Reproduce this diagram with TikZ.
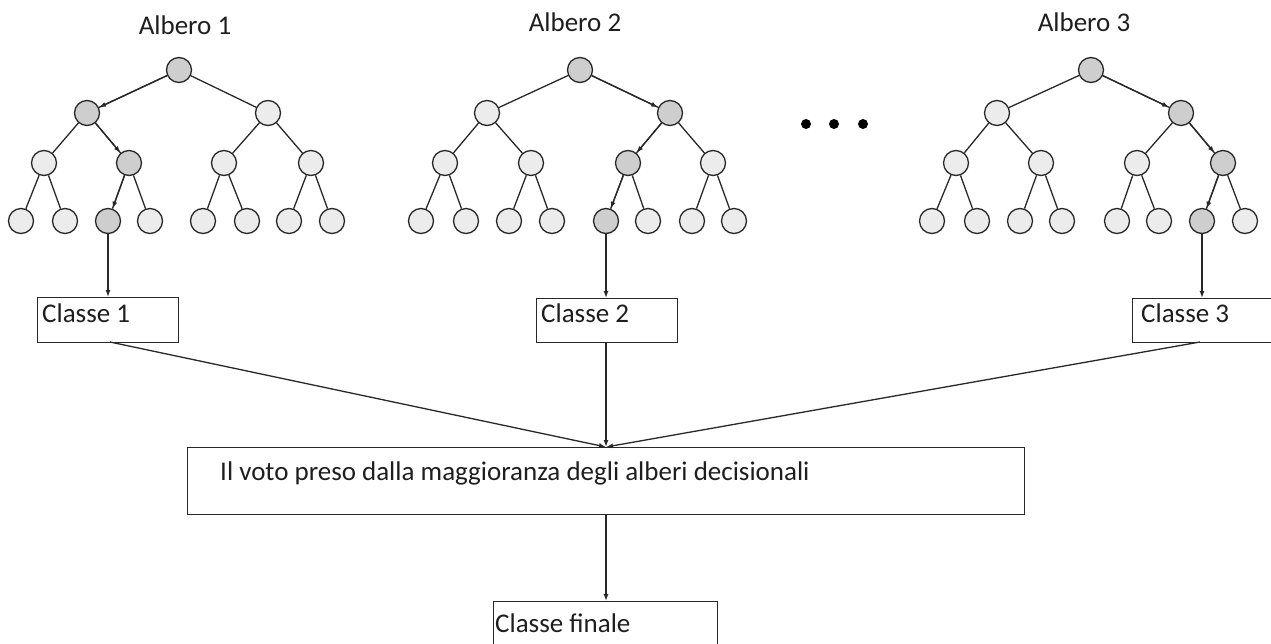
\documentclass[tikz,border=0pt]{standalone}
\usepackage{fontspec}
\setmainfont{Carlito}
\usetikzlibrary{arrows.meta,calc}
\definecolor{lightc}{RGB}{236,236,236}
\definecolor{darkc}{RGB}{206,206,206}
\definecolor{linec}{RGB}{40,40,40}
\definecolor{textc}{RGB}{30,30,30}
\begin{document}
\begin{tikzpicture}[x=1pt,y=-1pt,
  nd/.style={circle,draw=linec,line width=1.3pt,fill=lightc,minimum size=25pt,inner sep=0pt},
  sh/.style={nd,fill=darkc},
  edge/.style={draw=linec,line width=1.3pt},
  arr/.style={edge,-{Latex[length=7pt,width=5pt]}},
  box/.style={draw=linec,line width=1.1pt,rectangle,inner sep=0pt,anchor=north west},
  lbl/.style={text=textc,font=\fontsize{27}{32}\selectfont,inner sep=0pt,anchor=base west},
  ttl/.style={text=textc,font=\fontsize{27}{32}\selectfont,inner sep=0pt,anchor=base},
]
\useasboundingbox (0,0) rectangle (1271,644);
\clip (0,0) rectangle (1271,644);

% titles
\node[ttl] (ta) at (185,35) {Albero 1};
\node[ttl] (tb) at (575,32) {Albero 2};
\node[ttl] (tc) at (1084,32) {Albero 3};

% tree 1
\node[sh] (a)   at (179,70) {};
\node[sh] (aL)  at (87,113) {};
\node[nd] (aR)  at (268,113) {};
\node[nd] (aLL) at (44,163) {};
\node[sh] (aLR) at (129,163) {};
\node[nd] (aRL) at (224,163) {};
\node[nd] (aRR) at (311,163) {};
\node[nd] (aLLL) at (21,221) {};
\node[nd] (aLLR) at (65,221) {};
\node[sh] (aLRL) at (108,221) {};
\node[nd] (aLRR) at (150,221) {};
\node[nd] (aRLL) at (203,221) {};
\node[nd] (aRLR) at (247,221) {};
\node[nd] (aRRL) at (289,221) {};
\node[nd] (aRRR) at (332,221) {};

% tree 2
\node[sh] (b)   at (580,70) {};
\node[nd] (bL)  at (487,113) {};
\node[sh] (bR)  at (670,113) {};
\node[nd] (bLL) at (445,163) {};
\node[nd] (bLR) at (531,163) {};
\node[sh] (bRL) at (628,163) {};
\node[nd] (bRR) at (713,163) {};
\node[nd] (bLLL) at (421,221) {};
\node[nd] (bLLR) at (466,221) {};
\node[nd] (bLRL) at (509,221) {};
\node[nd] (bLRR) at (552,221) {};
\node[sh] (bRLL) at (606,221) {};
\node[nd] (bRLR) at (648,221) {};
\node[nd] (bRRL) at (692,221) {};
\node[nd] (bRRR) at (734,221) {};

% tree 3
\node[sh] (c)   at (1091,70) {};
\node[nd] (cL)  at (997,113) {};
\node[sh] (cR)  at (1181,113) {};
\node[nd] (cLL) at (956,163) {};
\node[nd] (cLR) at (1041,163) {};
\node[nd] (cRL) at (1137,163) {};
\node[sh] (cRR) at (1223,163) {};
\node[nd] (cLLL) at (932,221) {};
\node[nd] (cLLR) at (977,221) {};
\node[nd] (cLRL) at (1020,221) {};
\node[nd] (cLRR) at (1062,221) {};
\node[nd] (cRLL) at (1117,221) {};
\node[nd] (cRLR) at (1159,221) {};
\node[sh] (cRRL) at (1202,221) {};
\node[nd] (cRRR) at (1245,221) {};

% plain edges
\foreach \t in {a,b,c}{
  \foreach \p in {,L,R,LL,LR,RL,RR}{
    \draw[edge] (\t\p) -- (\t\p L);
    \draw[edge] (\t\p) -- (\t\p R);
  }
}
% decision paths
\draw[arr] (a) -- (aL);
\draw[arr] (aL) -- (aLR);
\draw[arr] (aLR) -- (aLRL);
\draw[arr] (b) -- (bR);
\draw[arr] (bR) -- (bRL);
\draw[arr] (bRL) -- (bRLL);
\draw[arr] (c) -- (cR);
\draw[arr] (cR) -- (cRR);
\draw[arr] (cRR) -- (cRRL);

% dots
\fill[black] (806,124) circle (5);
\fill[black] (834,124) circle (5);
\fill[black] (863,124) circle (5);

% boxes
\node[box,minimum width=141pt,minimum height=45pt] (c1) at (37,297) {};
\node[box,minimum width=141pt,minimum height=44pt] (c2) at (536,298) {};
\node[box,minimum width=142pt,minimum height=44pt] (c3) at (1132,298) {};
\node[box,minimum width=837pt,minimum height=67pt] (vote) at (187,447) {};
\node[box,minimum width=224pt,minimum height=60pt] (fin) at (493,601) {};

\node[lbl] (c1t) at (42,322) {Classe 1};
\node[lbl] (c2t) at (541,322) {Classe 2};
\node[lbl] (c3t) at (1141,322) {Classe 3};
\node[lbl] (votet) at (220,480) {Il voto preso dalla maggioranza degli alberi decisionali};
\node[lbl] (fint) at (495,632) {Classe finale};

% connectors
\draw[arr] (aLRL) -- (aLRL |- c1.north);
\draw[arr] (bRLL) -- (bRLL |- c2.north);
\draw[arr] (cRRL) -- (cRRL |- c3.north);

\coordinate (conv) at (606,447);
\coordinate (c1o) at (110,342);
\coordinate (c3o) at (1200,342);
\draw[arr] (c1o) -- (conv);
\draw[arr] (conv |- c2.south) -- (conv);
\draw[arr] (c3o) -- (conv);
\draw[arr] (conv |- vote.south) -- (conv |- fin.north);
\end{tikzpicture}
\end{document}
